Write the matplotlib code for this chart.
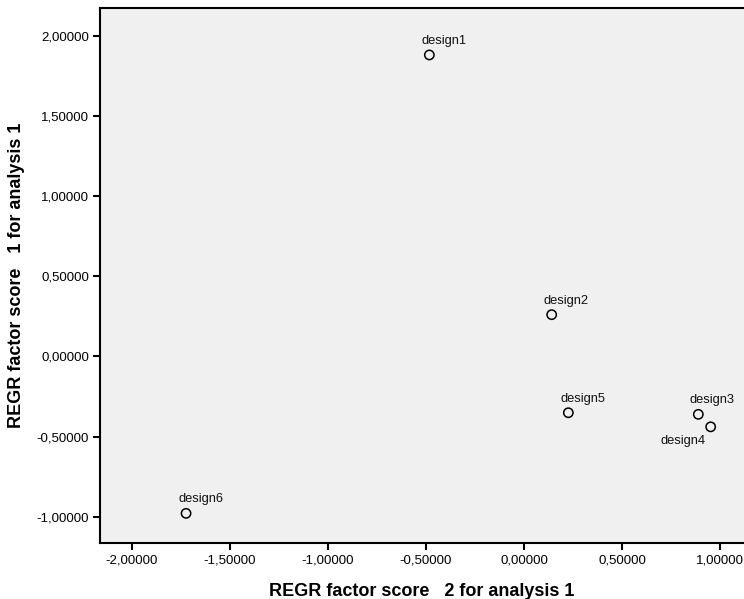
import matplotlib
matplotlib.use("Agg")
import matplotlib.pyplot as plt
from matplotlib.ticker import FuncFormatter, MultipleLocator

labels = ["design1", "design2", "design3", "design4", "design5", "design6"]
x_vals = [-0.483, 0.141, 0.889, 0.952, 0.226, -1.724]
y_vals = [1.882, 0.261, -0.361, -0.439, -0.351, -0.979]
x_label = "REGR factor score   2 for analysis 1"
y_label = "REGR factor score   1 for analysis 1"

plt.rcParams['font.family'] = ['Liberation Sans', 'DejaVu Sans']

fig = plt.figure(figsize=(7.44, 5.99), dpi=100)
ax = fig.add_axes([100/744, 56/599, 1 - 100/744, (543-8)/599])
ax.set_facecolor("#F0F0F0")
ax.scatter(x_vals, y_vals, s=45, facecolors="none", edgecolors="black", linewidths=1.1, zorder=3)

offsets = {
    "design1": (-8, 14, "left", "center"),
    "design2": (-8, 14, "left", "center"),
    "design3": (-9, 14, "left", "center"),
    "design4": (-5, -14, "right", "center"),
    "design5": (-8, 14, "left", "center"),
    "design6": (-8, 14, "left", "center"),
}
for lab, xv, yv in zip(labels, x_vals, y_vals):
    dx, dy, ha, va = offsets[lab]
    ax.annotate(lab, (xv, yv), xytext=(dx, dy), textcoords="offset pixels",
                ha=ha, va=va, fontsize=9.3, color="#111111")

ax.set_xlim(-2.163, 1.122)
ax.set_ylim(-1.164, 2.175)
ax.xaxis.set_major_locator(MultipleLocator(0.5))
ax.yaxis.set_major_locator(MultipleLocator(0.5))
fmt = FuncFormatter(lambda v, p: f"{v:.5f}".replace(".", ",").replace("-0,00000", "0,00000"))
ax.xaxis.set_major_formatter(fmt)
ax.yaxis.set_major_formatter(fmt)
ax.tick_params(length=5, width=1.5, labelsize=9.5, colors="black", pad=3)
for s in ["left", "bottom", "top"]:
    ax.spines[s].set_linewidth(1.5)
ax.spines["right"].set_visible(False)

ax.set_xlabel(x_label, fontsize=13, fontweight="bold", labelpad=12)
ax.set_ylabel(y_label, fontsize=13, fontweight="bold", labelpad=8)

fig.savefig("out.png", dpi=100)
